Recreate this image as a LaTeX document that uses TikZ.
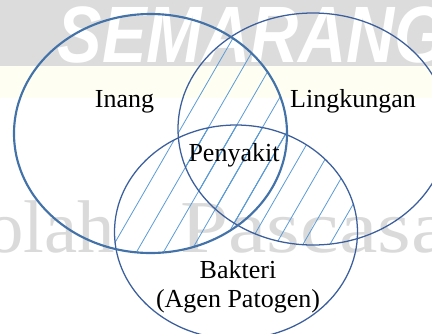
\documentclass[tikz,border=0pt]{standalone}
\usepackage{fontspec}
\setmainfont{Liberation Serif}
\newfontfamily\wmsans{Liberation Sans}
\definecolor{inangc}{HTML}{4272A8}
\definecolor{ringc}{HTML}{3B5E9C}
\definecolor{hatchc}{HTML}{5B9BD5}
\definecolor{wmgray}{HTML}{DCDCDC}
\definecolor{wmtext}{HTML}{DADADA}
\definecolor{wmyellow}{HTML}{FEFEF2}
\begin{document}
\begin{tikzpicture}[x=0.75pt,y=-0.75pt,
  vlabel/.style={font=\fontsize{19.5}{22}\selectfont, inner sep=0pt, anchor=base},
  hatchline/.style={hatchc, line width=0.6pt},
  thickring/.style={inangc, line width=1.6pt},
  thinring/.style={ringc, line width=0.95pt},
  wmword/.style={inner sep=0pt, anchor=base, text=white, font=\wmsans\bfseries\itshape\fontsize{50}{50}\selectfont, yscale=1.2},
  wmserif/.style={inner sep=0pt, text=wmtext, font=\fontsize{56}{56}\selectfont}]
\useasboundingbox (0,0) rectangle (432,333);
\fill[white] (0,0) rectangle (432,333);
% watermark background
\fill[wmyellow] (0,60) rectangle (432,98);
\fill[wmgray] (0,0) rectangle (432,66);
\node[wmword] (wm1) at (252,62) {SEMARANG};
\node[wmserif, anchor=base east] (wm2) at (115,252) {kolah};
\node[wmserif, anchor=base west, xscale=1.16] (wm3) at (180,252) {Pascasa};
% circle paths
\def\inangpath{(150.5,133.5) ellipse [x radius=102.375pt, y radius=89.625pt]}
\def\lingpath{(313,129) ellipse [x radius=101.25pt, y radius=87pt]}
\def\baktpath{(236,232) ellipse [x radius=91.125pt, y radius=80.25pt]}
% hatching in pairwise intersections
\begin{scope}
  \clip \inangpath; \clip \lingpath;
  \foreach \k in {-8,...,14} {\draw[hatchline] ({255+27*\k},0) -- ({255+27*\k-192.2},333);}
\end{scope}
\begin{scope}
  \clip \inangpath; \clip \baktpath;
  \foreach \k in {-8,...,14} {\draw[hatchline] ({255+27*\k},0) -- ({255+27*\k-192.2},333);}
\end{scope}
\begin{scope}
  \clip \lingpath; \clip \baktpath;
  \foreach \k in {-8,...,14} {\draw[hatchline] ({255+27*\k},0) -- ({255+27*\k-192.2},333);}
\end{scope}
% rings
\draw[thinring] \lingpath;
\draw[thinring] \baktpath;
\draw[thickring] \inangpath;
% labels
\node[vlabel] (inang) at (124.5,107) {Inang};
\node[vlabel] (ling) at (353,107) {Lingkungan};
\node[vlabel] (peny) at (234,161) {Penyakit};
\node[vlabel] (bakt) at (238,278) {Bakteri};
\node[vlabel] (agen) at (238,307) {(Agen Patogen)};
\end{tikzpicture}
\end{document}
